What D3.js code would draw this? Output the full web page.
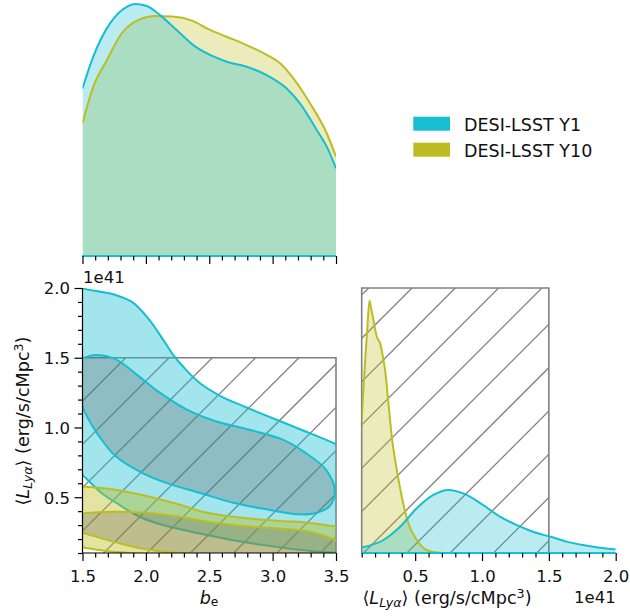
<!DOCTYPE html>
<html><head><meta charset="utf-8">
<script src="https://cdn.jsdelivr.net/npm/d3@7"></script>
<style>
body{margin:0;background:#fff;}
svg{display:block;font-family:"DejaVu Sans",sans-serif;}
</style></head><body>
<svg id="chart" width="630" height="616"></svg>
<script>
// ---------------- data ----------------
const seriesNames = ["DESI-LSST Y1", "DESI-LSST Y10"];
const seriesColors = ["#17becf", "#bcbd22"];

// 1D marginal of b_e (relative density)
const beGridY1 = [1.5,1.585,1.717,1.849,1.914,2.007,2.111,2.243,2.374,2.506,2.638,2.795,2.953,3.111,3.216,3.348,3.427,3.5];
const beDensY1 = [0.665,0.791,0.923,0.989,1.0,0.992,0.956,0.897,0.837,0.798,0.771,0.751,0.718,0.665,0.606,0.5,0.434,0.348];
const beGridY10 = [1.5,1.585,1.693,1.81,1.943,2.074,2.206,2.364,2.506,2.638,2.795,2.953,3.059,3.164,3.295,3.427,3.5];
const beDensY10 = [0.527,0.671,0.778,0.884,0.937,0.952,0.95,0.934,0.897,0.87,0.837,0.798,0.765,0.705,0.606,0.487,0.394];

// 1D marginal of <L_Lya> (units 1e41)
const LGridY1 = [0.1,0.263,0.387,0.512,0.636,0.748,0.86,1.009,1.134,1.258,1.382,1.507,1.631,1.755,1.88,2.0];
const LDensY1 = [0.021,0.049,0.099,0.169,0.219,0.238,0.225,0.181,0.137,0.106,0.080,0.062,0.043,0.030,0.020,0.014];
const LGridY10 = [0.1,0.113,0.126,0.141,0.158,0.172,0.188,0.213,0.238,0.263,0.275,0.30,0.325,0.363,0.40,0.449,0.512,0.587,0.686,0.75];
const LDensY10 = [0.50,0.62,0.728,0.84,0.952,0.92,0.879,0.816,0.791,0.728,0.69,0.565,0.439,0.313,0.212,0.112,0.049,0.011,0.001,0];

// 2D contour boundaries [b_e, L]
const y1OuterUpper = [[1.44,2.03],[1.5,1.997],[1.63,1.975],[1.76,1.95],[1.89,1.90],[2.02,1.78],[2.15,1.61],[2.22,1.515],[2.3,1.43],[2.43,1.315],[2.6,1.22],[2.75,1.16],[2.95,1.085],[3.1,1.03],[3.25,0.975],[3.4,0.92],[3.5,0.88],[3.56,0.855]];
const y1OuterLower = [[1.44,0.71],[1.5,0.66],[1.65,0.53],[1.8,0.44],[1.95,0.36],[2.1,0.31],[2.3,0.265],[2.5,0.225],[2.7,0.19],[2.9,0.16],[3.1,0.135],[3.3,0.115],[3.5,0.104],[3.56,0.101]];
const y1Inner = [[1.44,1.48],[1.5,1.496],[1.6,1.52],[1.76,1.49],[1.94,1.37],[2.11,1.25],[2.32,1.13],[2.55,1.045],[2.81,0.985],[3.08,0.913],[3.26,0.818],[3.42,0.698],[3.49,0.555],[3.45,0.436],[3.35,0.389],[3.22,0.377],[2.95,0.413],[2.69,0.46],[2.43,0.53],[2.16,0.603],[1.97,0.675],[1.76,0.795],[1.63,0.938],[1.52,1.105],[1.5,1.15],[1.44,1.30]];
const y10OuterUpper = [[1.44,0.585],[1.5,0.578],[1.76,0.553],[2.02,0.505],[2.29,0.44],[2.43,0.40],[2.55,0.378],[2.81,0.347],[3.08,0.328],[3.22,0.322],[3.34,0.31],[3.5,0.29],[3.56,0.284]];
const y10OuterLower = [[1.44,0.15],[1.5,0.142],[1.6,0.125],[1.7,0.113],[1.8,0.105],[1.9,0.099],[2.0,0.093],[2.1,0.088]];
const y10InnerUpper = [[1.44,0.383],[1.5,0.385],[1.75,0.395],[2.0,0.388],[2.25,0.362],[2.5,0.322],[2.8,0.29],[3.1,0.272],[3.3,0.25],[3.4,0.225],[3.5,0.19],[3.56,0.17]];
const y10InnerLower = [[1.44,0.258],[1.5,0.245],[1.65,0.205],[1.8,0.168],[1.95,0.135],[2.1,0.113],[2.25,0.102],[2.4,0.094],[2.5,0.09]];

// prior boxes
const priorBe = [1.5, 3.5];
const priorL = [0.1, 1.5];

// ticks
const beMajorTicks = [1.5, 2.0, 2.5, 3.0, 3.5];
const beTickLabels = ["1.5", "2.0", "2.5", "3.0", "3.5"];
const LMajorTicks = [0.5, 1.0, 1.5, 2.0];
const LTickLabels = ["0.5", "1.0", "1.5", "2.0"];
const offsetLabel = "1e41";

// ---------------- layout ----------------
const svg = d3.select("#chart");
const defs = svg.append("defs");
const X0 = 82.5, X1 = 336, RX0 = 361.7, RX1 = 615.7, YT = 288, YB = 553, TOPB = 256;
const TICKFS = 16.5, LABELFS = 17.6;
const xB = d3.scaleLinear().domain([1.5, 3.5]).range([X0, X1]);
const yL = d3.scaleLinear().domain([0.1, 2.0]).range([YB, YT]);
const xL = d3.scaleLinear().domain([0.1, 2.0]).range([RX0, RX1]);
const yTop = d3.scaleLinear().domain([0, 1]).range([TOPB, 4]);
const yRight = d3.scaleLinear().domain([0, 1]).range([YB, YT]);

const beMinor = d3.range(15, 36).map(d => d / 10).filter(v => !beMajorTicks.some(m => Math.abs(m - v) < 1e-9));
const LMinor = d3.range(1, 20).map(d => d / 10).filter(v => !LMajorTicks.some(m => Math.abs(m - v) < 1e-9));

function clip(id, x, y, w, h) {
  defs.append("clipPath").attr("id", id).append("rect").attr("x", x).attr("y", y).attr("width", w).attr("height", h);
}
clip("cTop", X0, 0, X1 - X0, TOPB);
clip("cMain", X0, YT, X1 - X0, YB - YT);
clip("cRight", RX0, YT, RX1 - RX0, YB - YT);
clip("hMain", xB(priorBe[0]), yL(priorL[1]), xB(priorBe[1]) - xB(priorBe[0]), yL(priorL[0]) - yL(priorL[1]));
clip("hRight", xL(priorL[0]), YT, xL(priorL[1]) - xL(priorL[0]), YB - YT);

const grey = "#808080";
function hatch(clipId) {
  const g = svg.append("g").attr("clip-path", `url(#${clipId})`);
  const cs = d3.range(-16, 16).map(k => 700 + k * 43.3);
  g.selectAll("line").data(cs).join("line")
    .attr("x1", c => c - 700).attr("y1", 700)
    .attr("x2", c => c + 100).attr("y2", -100)
    .attr("stroke", grey).attr("stroke-width", 1.3);
}

// ---------------- top panel: b_e marginal ----------------
const gTop = svg.append("g").attr("clip-path", "url(#cTop)");
function area1D(g, grid, dens, sx, sy, color, alpha) {
  const pts = grid.map((v, i) => [v, dens[i]]);
  g.append("path").datum(pts)
    .attr("d", d3.area().x(d => sx(d[0])).y0(sy(0)).y1(d => sy(d[1])).curve(d3.curveMonotoneX))
    .attr("fill", color).attr("fill-opacity", alpha);
}
function line1D(g, grid, dens, sx, sy, color) {
  const pts = grid.map((v, i) => [v, dens[i]]);
  g.append("path").datum(pts)
    .attr("d", d3.line().x(d => sx(d[0])).y(d => sy(d[1])).curve(d3.curveMonotoneX))
    .attr("fill", "none").attr("stroke", color).attr("stroke-width", 2);
}
area1D(gTop, beGridY10, beDensY10, xB, yTop, seriesColors[1], 0.3);
area1D(gTop, beGridY1, beDensY1, xB, yTop, seriesColors[0], 0.3);
line1D(gTop, beGridY10, beDensY10, xB, yTop, seriesColors[1]);
line1D(gTop, beGridY1, beDensY1, xB, yTop, seriesColors[0]);

function xAxis(y, scale, major, labels, minor, showLabels) {
  const g = svg.append("g").attr("transform", `translate(0,${y})`);
  g.call(d3.axisBottom(scale).tickValues(minor).tickSize(4.5).tickSizeOuter(0).tickFormat(""));
  const g2 = svg.append("g").attr("transform", `translate(0,${y})`);
  g2.call(d3.axisBottom(scale).tickValues(major).tickSize(8).tickSizeOuter(0)
    .tickFormat((d, i) => showLabels ? labels[i] : ""));
  [g, g2].forEach(s => { s.select(".domain").remove(); s.selectAll("line").attr("stroke", "#000").attr("stroke-width", 1.2); });
  g2.selectAll("text").attr("y", 28.7).attr("dy", 0).attr("font-size", TICKFS).attr("fill", "#111")
    .attr("font-family", "DejaVu Sans");
  return g2;
}
// top panel axis
svg.append("line").attr("x1", X0).attr("x2", X1).attr("y1", TOPB).attr("y2", TOPB).attr("stroke", "#000").attr("stroke-width", 1.2);
svg.append("line").attr("x1", X0).attr("x2", X1).attr("y1", TOPB).attr("y2", TOPB).attr("stroke", seriesColors[0]).attr("stroke-width", 2);
xAxis(TOPB, xB, beMajorTicks, beTickLabels, beMinor, false);

// ---------------- main 2D panel ----------------
hatch("hMain");
svg.append("path")
  .attr("d", `M${xB(priorBe[0])},${yL(priorL[1])}H${xB(priorBe[1])}V${yL(priorL[0])}`)
  .attr("fill", "none").attr("stroke", grey).attr("stroke-width", 1.6);

const gMain = svg.append("g").attr("clip-path", "url(#cMain)");
const smooth = d3.line().x(d => xB(d[0])).y(d => yL(d[1])).curve(d3.curveCatmullRom.alpha(0.5));
function joinPath(parts) { return parts.map((p, i) => i ? p.replace(/^M/, "L") : p).join("") + "Z"; }
function straight(pts) { return "M" + pts.map(d => `${xB(d[0])},${yL(d[1])}`).join("L"); }

const y1OuterPath = joinPath([smooth(y1OuterUpper), smooth(y1OuterLower.slice().reverse())]);
const y1InnerPath = joinPath([smooth(y1Inner)]);
const y10OuterPath = joinPath([smooth(y10OuterUpper), straight([[3.56, 0.0], [2.1, 0.0]]), smooth(y10OuterLower.slice().reverse())]);
const y10InnerPath = joinPath([smooth(y10InnerUpper), straight([[3.56, 0.0], [2.5, 0.0]]), smooth(y10InnerLower.slice().reverse())]);

function contourSet(outer, inner, color, outerAlpha, innerCol, innerAlpha) {
  gMain.append("path").attr("d", outer).attr("fill", color).attr("fill-opacity", outerAlpha);
  gMain.append("path").attr("d", inner).attr("fill", innerCol).attr("fill-opacity", innerAlpha);
  gMain.append("path").attr("d", outer).attr("fill", "none").attr("stroke", color).attr("stroke-width", 2);
  gMain.append("path").attr("d", inner).attr("fill", "none").attr("stroke", color).attr("stroke-width", 2);
}
contourSet(y1OuterPath, y1InnerPath, seriesColors[0], 0.4, "#5a5a5a", 0.28);
contourSet(y10OuterPath, y10InnerPath, seriesColors[1], 0.42, "#5a5a5a", 0.28);

// spines
svg.append("path").attr("d", `M${X0},${YT}V${YB}H${X1}`).attr("fill", "none").attr("stroke", "#000").attr("stroke-width", 1.2);
xAxis(YB, xB, beMajorTicks, beTickLabels, beMinor, true);
// y axis
const gy1 = svg.append("g").attr("transform", `translate(${X0},0)`)
  .call(d3.axisLeft(yL).tickValues(LMinor).tickSize(4.5).tickSizeOuter(0).tickFormat(""));
const gy2 = svg.append("g").attr("transform", `translate(${X0},0)`)
  .call(d3.axisLeft(yL).tickValues(LMajorTicks).tickSize(8).tickSizeOuter(0).tickFormat((d, i) => LTickLabels[i]));
[gy1, gy2].forEach(s => { s.select(".domain").remove(); s.selectAll("line").attr("stroke", "#000").attr("stroke-width", 1.2); });
gy2.selectAll("text").attr("x", -12.5).attr("dy", "0.36em").attr("font-size", TICKFS).attr("fill", "#111").attr("font-family", "DejaVu Sans");

svg.append("text").attr("x", 83).attr("y", 282.5).attr("font-size", TICKFS).attr("fill", "#111").text(offsetLabel);

function Llabel(t) {
  t.append("tspan").text("\u27E8");
  t.append("tspan").attr("font-style", "italic").text("L");
  t.append("tspan").attr("font-style", "italic").attr("font-size", "0.72em").attr("dy", "0.2em").text("Ly\u03B1");
  t.append("tspan").attr("dy", "-0.144em").text("\u27E9 (erg/s/cMpc");
  t.append("tspan").attr("font-size", "0.72em").attr("dy", "-0.45em").text("3");
  t.append("tspan").attr("dy", "0.324em").text(")");
}
const yl = svg.append("text").attr("transform", "translate(29,421) rotate(-90)").attr("text-anchor", "middle")
  .attr("font-size", LABELFS).attr("fill", "#111");
Llabel(yl);
const bl = svg.append("text").attr("x", 209).attr("y", 604).attr("text-anchor", "middle").attr("font-size", LABELFS).attr("fill", "#111");
bl.append("tspan").attr("font-style", "italic").text("b");
bl.append("tspan").attr("font-size", "0.7em").attr("dy", "0.2em").text("e");

// ---------------- right panel: L marginal ----------------
hatch("hRight");
svg.append("path")
  .attr("d", `M${xL(priorL[0])},${YB}V${YT}H${xL(priorL[1])}V${YB}`)
  .attr("fill", "none").attr("stroke", grey).attr("stroke-width", 1.6);
const gR = svg.append("g").attr("clip-path", "url(#cRight)");
area1D(gR, LGridY10, LDensY10, xL, yRight, seriesColors[1], 0.3);
area1D(gR, LGridY1, LDensY1, xL, yRight, seriesColors[0], 0.3);
line1D(gR, LGridY10, LDensY10, xL, yRight, seriesColors[1]);
line1D(gR, LGridY1, LDensY1, xL, yRight, seriesColors[0]);
svg.append("line").attr("x1", RX0).attr("x2", RX1).attr("y1", YB).attr("y2", YB).attr("stroke", seriesColors[0]).attr("stroke-width", 2);
xAxis(YB, xL, LMajorTicks, LTickLabels, LMinor, true);
svg.append("text").attr("x", 615.7).attr("y", 603.3).attr("text-anchor", "end").attr("font-size", TICKFS).attr("fill", "#111").text(offsetLabel);
const xl = svg.append("text").attr("x", 447).attr("y", 604).attr("text-anchor", "middle").attr("font-size", LABELFS).attr("fill", "#111");
Llabel(xl);

// ---------------- legend ----------------
const lg = svg.append("g");
seriesNames.forEach((n, i) => {
  lg.append("rect").attr("x", 413.3).attr("y", 116.7 + i * 26).attr("width", 36.7).attr("height", 14).attr("fill", seriesColors[i]);
  lg.append("text").attr("x", 464).attr("y", 130.7 + i * 26).attr("font-size", 17.5).attr("fill", "#111").text(n);
});
</script>
</body></html>
